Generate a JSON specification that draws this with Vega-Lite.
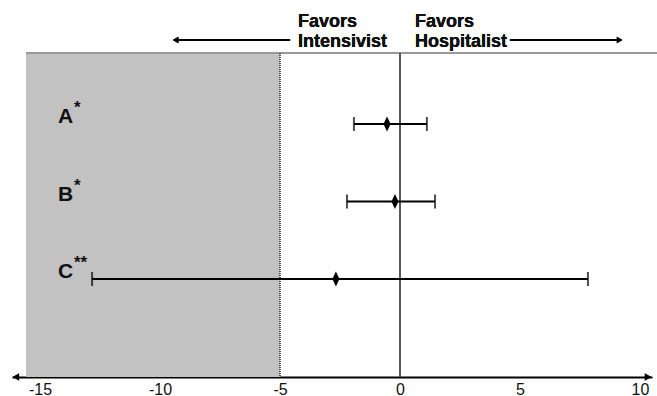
{
  "$schema": "https://vega.github.io/schema/vega-lite/v6.json",
  "width": 640,
  "height": 324,
  "padding": {"left": 12, "top": 53, "right": 5, "bottom": 19},
  "autosize": {"type": "none"},
  "background": "white",
  "config": {
    "view": {"stroke": null},
    "font": "Liberation Sans",
    "axisX": {"domain": true, "domainColor": "#000", "domainWidth": 2,
      "ticks": false, "grid": false, "labelFontSize": 16, "labelColor": "#111", "labelPadding": 4,
      "labelFlush": false, "labelFont": "Liberation Sans"}
  },
  "data": {"values": [
    {"study": "A", "label": "A", "stars": "*", "est": -0.54, "lo": -1.92, "hi": 1.12},
    {"study": "B", "label": "B", "stars": "*", "est": -0.21, "lo": -2.21, "hi": 1.46},
    {"study": "C", "label": "C", "stars": "**", "est": -2.67, "lo": -12.83, "hi": 7.83}
  ]},
  "layer": [
    {
      "mark": {"type": "rect", "color": "#c2c2c2"},
      "encoding": {
        "x": {"datum": -15.58, "type": "quantitative", "title": null,
          "scale": {"domain": [-16.1667, 10.5], "nice": false, "zero": false},
          "axis": {"values": [-15, -10, -5, 0, 5, 10], "labelExpr": "'' + datum.value", "title": null}},
        "x2": {"datum": -5}
      }
    },
    {
      "mark": {"type": "rule", "color": "#999", "strokeWidth": 2},
      "encoding": {"x": {"datum": -15.58, "type": "quantitative", "title": null}, "x2": {"datum": 10.71}, "y": {"value": 0}}
    },
    {
      "mark": {"type": "rule", "color": "#333", "strokeWidth": 1, "strokeDash": [1, 1]},
      "encoding": {"x": {"datum": -5, "type": "quantitative", "title": null}}
    },
    {
      "mark": {"type": "rule", "color": "#555", "strokeWidth": 1.5},
      "encoding": {"x": {"datum": 0, "type": "quantitative", "title": null}}
    },
    {
      "mark": {"type": "rule", "color": "#000", "strokeWidth": 2},
      "encoding": {
        "x": {"field": "lo", "type": "quantitative", "title": null},
        "x2": {"field": "hi"},
        "y": {"field": "study", "type": "nominal", "axis": null,
          "scale": {"type": "point", "domain": ["A", "B", "C"], "range": [71, 226], "padding": 0}}
      }
    },
    {
      "mark": {"type": "tick", "color": "#000", "size": 14, "thickness": 2, "orient": "vertical"},
      "encoding": {"x": {"field": "lo", "type": "quantitative", "title": null}, "y": {"field": "study", "type": "nominal", "axis": null}}
    },
    {
      "mark": {"type": "tick", "color": "#000", "size": 14, "thickness": 2, "orient": "vertical"},
      "encoding": {"x": {"field": "hi", "type": "quantitative", "title": null}, "y": {"field": "study", "type": "nominal", "axis": null}}
    },
    {
      "mark": {"type": "point", "shape": "M0,-1L0.47,0L0,1L-0.47,0Z", "size": 225, "filled": true, "color": "#000", "opacity": 1},
      "encoding": {"x": {"field": "est", "type": "quantitative", "title": null}, "y": {"field": "study", "type": "nominal", "axis": null}}
    },
    {
      "mark": {"type": "text", "align": "left", "baseline": "alphabetic", "fontSize": 21, "fontWeight": "bold", "color": "#111", "dy": -1},
      "encoding": {"x": {"datum": -14.25, "type": "quantitative", "title": null}, "y": {"field": "study", "type": "nominal", "axis": null}, "text": {"field": "label"}}
    },
    {
      "mark": {"type": "text", "align": "left", "baseline": "alphabetic", "fontSize": 17, "fontWeight": "bold", "color": "#111", "dx": 16, "dy": -11},
      "encoding": {"x": {"datum": -14.25, "type": "quantitative", "title": null}, "y": {"field": "study", "type": "nominal", "axis": null}, "text": {"field": "stars"}}
    },
    {
      "mark": {"type": "text", "align": "left", "baseline": "alphabetic", "fontSize": 18, "fontWeight": "bold", "color": "#111", "lineHeight": 20, "text": ["Favors", "Intensivist"]},
      "encoding": {"x": {"datum": -4.25, "type": "quantitative", "title": null}, "y": {"value": -26}}
    },
    {
      "mark": {"type": "text", "align": "left", "baseline": "alphabetic", "fontSize": 18, "fontWeight": "bold", "color": "#111", "lineHeight": 20, "text": ["Favors", "Hospitalist"]},
      "encoding": {"x": {"datum": 0.625, "type": "quantitative", "title": null}, "y": {"value": -26}}
    },
    {
      "mark": {"type": "rule", "color": "#000", "strokeWidth": 2},
      "encoding": {"x": {"datum": -9.4, "type": "quantitative", "title": null}, "x2": {"datum": -4.58}, "y": {"value": -13}}
    },
    {
      "mark": {"type": "rule", "color": "#000", "strokeWidth": 2},
      "encoding": {"x": {"datum": 4.58, "type": "quantitative", "title": null}, "x2": {"datum": 9.2}, "y": {"value": -13}}
    },
    {
      "mark": {"type": "point", "shape": "triangle-left", "size": 40, "filled": true, "color": "#000", "opacity": 1},
      "encoding": {"x": {"datum": -9.35, "type": "quantitative", "title": null}, "y": {"value": -13}}
    },
    {
      "mark": {"type": "point", "shape": "triangle-right", "size": 40, "filled": true, "color": "#000", "opacity": 1},
      "encoding": {"x": {"datum": 9.15, "type": "quantitative", "title": null}, "y": {"value": -13}}
    },
    {
      "mark": {"type": "point", "shape": "triangle-left", "size": 50, "filled": true, "color": "#000", "opacity": 1},
      "encoding": {"x": {"datum": -16.0, "type": "quantitative", "title": null}, "y": {"value": "height"}}
    },
    {
      "mark": {"type": "point", "shape": "triangle-right", "size": 50, "filled": true, "color": "#000", "opacity": 1},
      "encoding": {"x": {"datum": 10.33, "type": "quantitative", "title": null}, "y": {"value": "height"}}
    }
  ]
}
